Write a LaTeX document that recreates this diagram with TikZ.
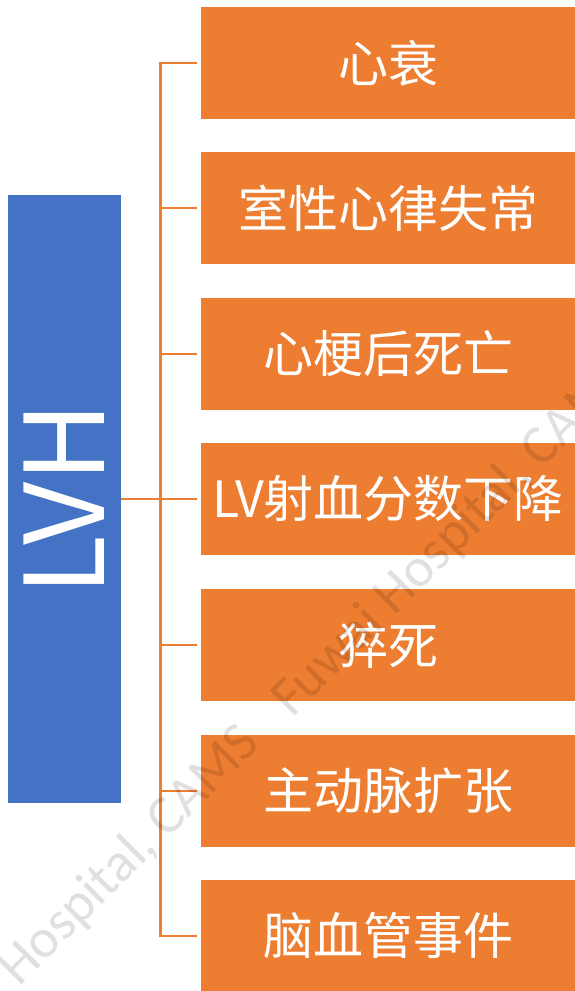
\documentclass[tikz,border=0pt]{standalone}
\usepackage{fontspec}
\setmainfont{Noto Sans CJK SC}
\newfontfamily\wmfont{Carlito}
\definecolor{obox}{HTML}{ED7D31}
\definecolor{bbox}{HTML}{4472C4}
\begin{document}
\begin{tikzpicture}[x=1pt,y=1pt,
  itembox/.style={fill=obox, draw=none, minimum width=374pt, minimum height=112pt, inner sep=0pt, text=white, font=\fontsize{50}{60}\selectfont},
  rootbox/.style={fill=bbox, draw=none, minimum width=113pt, minimum height=608pt, inner sep=0pt},
  link/.style={draw=obox, line width=2.5pt},
  wmark/.style={text=black, text opacity=0.12, font=\wmfont\fontsize{55}{60}\selectfont, rotate=45, inner sep=0pt}]
\useasboundingbox (0,0) rectangle (575,991);
\node[rootbox] (lvh) at (64.5,492) {};
\node[rotate=90, text=white, font=\fontsize{110}{120}\selectfont] (lvht) at (lvh.center) {LVH};
\node[itembox] (b1) at (388,928) {心衰};
\node[itembox] (b2) at (388,783) {室性心律失常};
\node[itembox] (b3) at (388,637) {心梗后死亡};
\node[itembox] (b4) at (388,492) {LV射血分数下降};
\node[itembox] (b5) at (388,346) {猝死};
\node[itembox] (b6) at (388,200) {主动脉扩张};
\node[itembox] (b7) at (388,55) {脑血管事件};
\coordinate (j) at (160.5,492);
\draw[link] (lvh.east) -- (j);
\foreach \b in {b1,b2,b3,b4,b5,b6,b7}{
  \draw[link] ([xshift=-4pt]\b.west) -| (j);
}
\begin{scope}
\clip (0,0) rectangle (575,991);
\node[wmark, anchor=base east] (wm1) at (262,246) {Hospital, CAMS};
\node[wmark, anchor=base west] (wm2) at (292,272) {Fuwai Hospital, CAMS};
\end{scope}
\end{tikzpicture}
\end{document}
